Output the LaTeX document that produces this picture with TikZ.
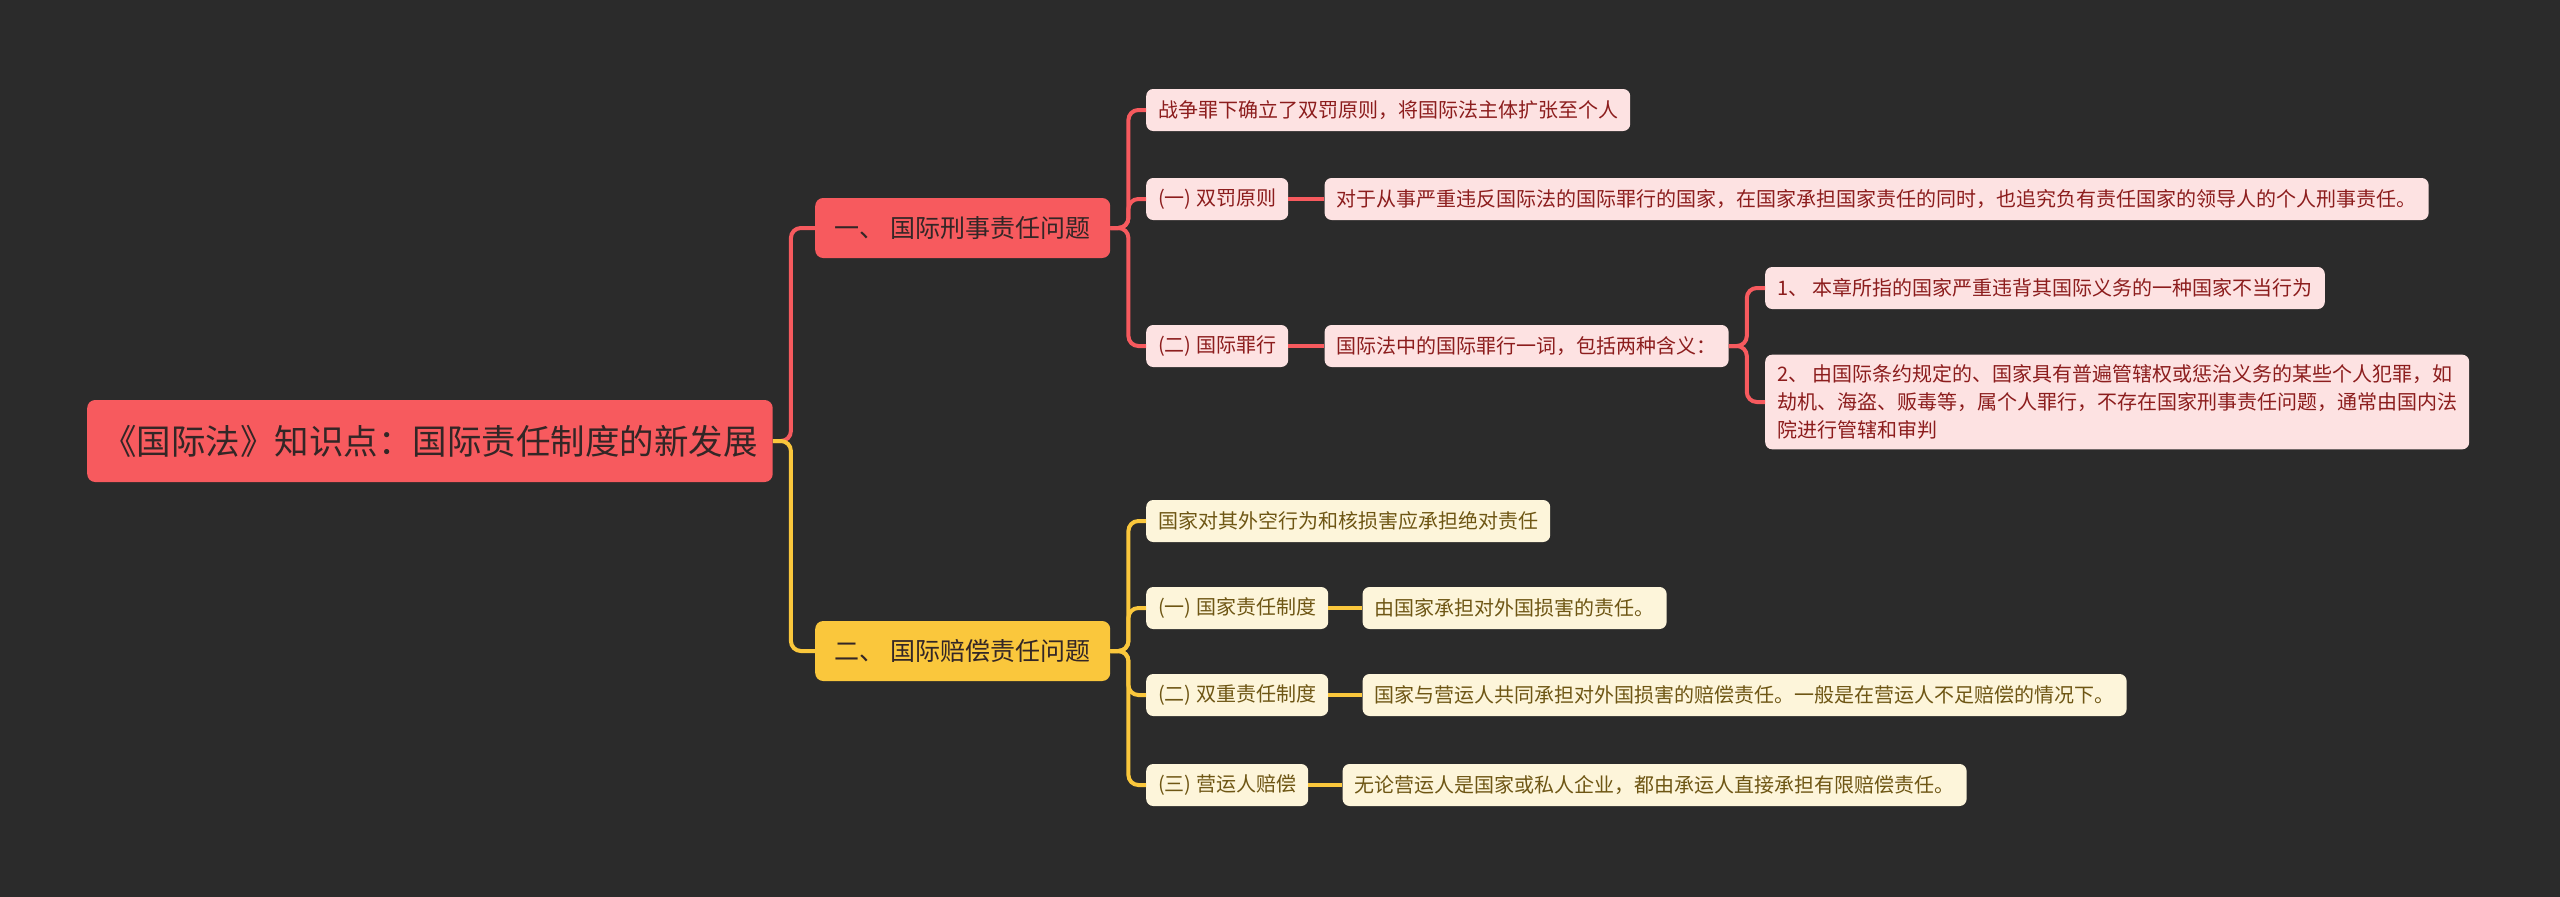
\documentclass[tikz,border=0pt]{standalone}
\usepackage{fontspec}
\setmainfont{Noto Sans CJK SC}
\usepackage{tikz}
\usetikzlibrary{positioning}
\definecolor{bgdark}{HTML}{2B2B2B}
\definecolor{rootred}{HTML}{F75A5E}
\definecolor{sunyellow}{HTML}{FAC73C}
\definecolor{pinkfill}{HTML}{FDE2E2}
\definecolor{creamfill}{HTML}{FDF5DA}
\definecolor{wine}{HTML}{8C1D1D}
\definecolor{olive}{HTML}{6E5614}
\definecolor{inkdark}{HTML}{332626}

\begin{document}
\begin{tikzpicture}[
  x=1pt, y=-1pt,
  rootbox/.style={fill=rootred, rounded corners=8pt, text=inkdark, font=\fontsize{34.5}{40}\selectfont, minimum height=82pt, inner xsep=15pt, anchor=west},
  topicred/.style={fill=rootred, rounded corners=8pt, text=inkdark, font=\fontsize{25}{30}\selectfont, minimum height=60pt, minimum width=295pt, inner xsep=16pt, anchor=west},
  topicyel/.style={topicred, fill=sunyellow},
  redleaf/.style={fill=pinkfill, rounded corners=7pt, text=wine, font=\fontsize{20}{28}\selectfont, minimum height=42pt, inner xsep=12pt, inner ysep=4pt, anchor=west, align=left},
  yelleaf/.style={redleaf, fill=creamfill, text=olive},
  redline/.style={draw=rootred, line width=4pt, rounded corners=10pt},
  yelline/.style={redline, draw=sunyellow}
]

% Background
\fill[bgdark] (0,0) rectangle (2560,897);
\useasboundingbox (0,0) rectangle (2560,897);

% Root
\node[rootbox] (root) at (87,441) {《国际法》知识点：国际责任制度的新发展};

% Topics
\node[topicred] (crim) at (815,228) {一、 国际刑事责任问题};
\node[topicyel] (comp) at (815,651) {二、 国际赔偿责任问题};

% Criminal responsibility
\node[redleaf] (war) at (1146,110) {战争罪下确立了双罚原则，将国际法主体扩张至个人};
\node[redleaf] (dual) at (1146,199) {(一) 双罚原则};
\node[redleaf, right=36pt of dual] (dualtxt) {对于从事严重违反国际法的国际罪行的国家，在国家承担国家责任的同时，也追究负有责任国家的领导人的个人刑事责任。};
\node[redleaf] (crime) at (1146,346) {(二) 国际罪行};
\node[redleaf, right=36pt of crime] (crimetxt) {国际法中的国际罪行一词，包括两种含义：};
\node[redleaf] (meanA) at (1765,288) {1、 本章所指的国家严重违背其国际义务的一种国家不当行为};
\node[redleaf, inner ysep=10pt] (meanB) at (1765,402) {2、 由国际条约规定的、国家具有普遍管辖权或惩治义务的某些个人犯罪，如\\劫机、海盗、贩毒等，属个人罪行，不存在国家刑事责任问题，通常由国内法\\院进行管辖和审判};

% Compensation responsibility
\node[yelleaf] (absol) at (1146,521) {国家对其外空行为和核损害应承担绝对责任};
\node[yelleaf] (state) at (1146,608) {(一) 国家责任制度};
\node[yelleaf, right=34pt of state] (statetxt) {由国家承担对外国损害的责任。};
\node[yelleaf] (joint) at (1146,695) {(二) 双重责任制度};
\node[yelleaf, right=34pt of joint] (jointtxt) {国家与营运人共同承担对外国损害的赔偿责任。一般是在营运人不足赔偿的情况下。};
\node[yelleaf] (oper) at (1146,785) {(三) 营运人赔偿};
\node[yelleaf, right=34pt of oper] (opertxt) {无论营运人是国家或私人企业，都由承运人直接承担有限赔偿责任。};

% Connectors
\draw[redline] (root.east) -- ++(18,0) |- (crim.west);
\draw[yelline] (root.east) -- ++(18,0) |- (comp.west);
\foreach \n in {war,dual,crime}
  \draw[redline] (crim.east) -- ++(18,0) |- (\n.west);
\draw[redline] (dual) -- (dualtxt);
\draw[redline] (crime) -- (crimetxt);
\foreach \n in {meanA,meanB}
  \draw[redline] (crimetxt.east) -- ++(18,0) |- (\n.west);
\foreach \n in {absol,state,joint,oper}
  \draw[yelline] (comp.east) -- ++(18,0) |- (\n.west);
\draw[yelline] (state) -- (statetxt);
\draw[yelline] (joint) -- (jointtxt);
\draw[yelline] (oper) -- (opertxt);

\end{tikzpicture}
\end{document}
